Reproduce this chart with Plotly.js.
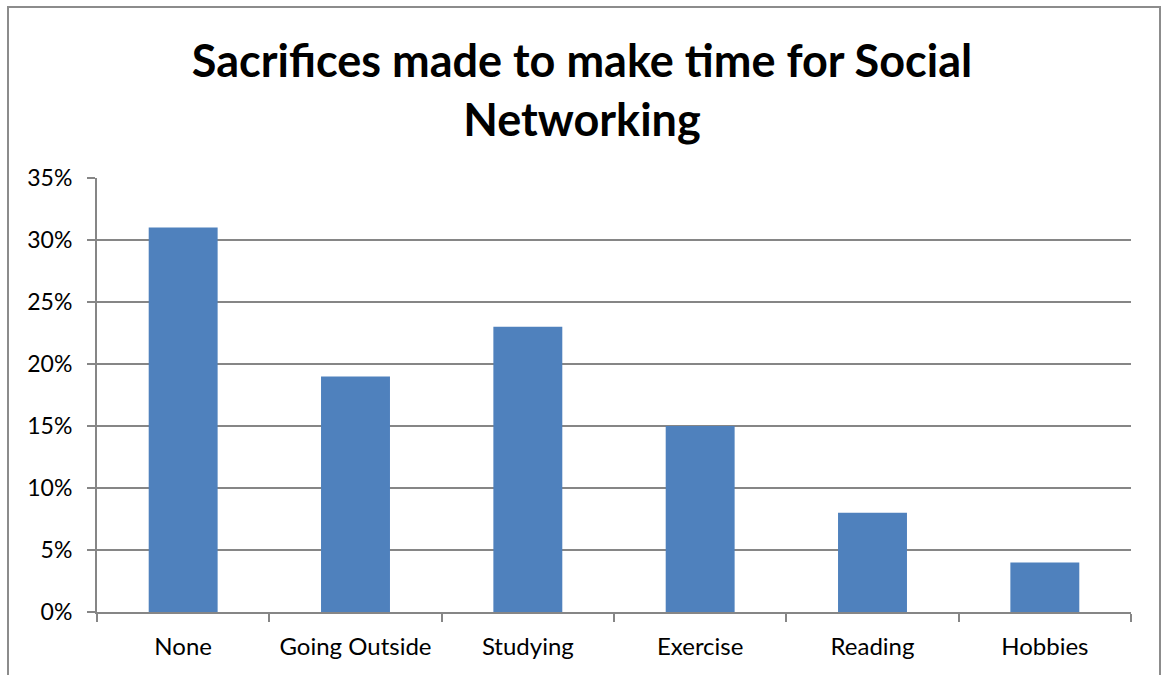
<!DOCTYPE html>
<html>
<head>
<meta charset="utf-8">
<script src="https://cdn.plot.ly/plotly-3.0.1.min.js"></script>
<style>
html,body{margin:0;padding:0;background:#fff;}
#chart{width:1164px;height:675px;}
</style>
</head>
<body>
<div id="chart"></div>
<script>
const categories = ["None", "Going Outside", "Studying", "Exercise", "Reading", "Hobbies"];
const values = [0.31, 0.19, 0.23, 0.15, 0.08, 0.04];
const yTickVals = [0, 0.05, 0.10, 0.15, 0.20, 0.25, 0.30, 0.35];
const yTickText = ["0%", "5%", "10%", "15%", "20%", "25%", "30%", "35%"];

const fontFam = "Lato, 'Open Sans', sans-serif";

const trace = {
  type: "bar",
  x: categories,
  y: values,
  marker: {color: "#4F81BD"},
  hoverinfo: "x+y"
};

const layout = {
  width: 1164,
  height: 675,
  margin: {l: 97, r: 33, t: 178, b: 63},
  paper_bgcolor: "#fff",
  plot_bgcolor: "#fff",
  bargap: 0.6,
  showlegend: false,
  title: {
    text: "<b>Sacrifices made to make time for Social<br>Networking</b>",
    font: {family: fontFam, size: 45, color: "#000"},
    x: 0.5, xanchor: "center",
    yref: "container",
    y: 1 - 77 / 675, yanchor: "middle"
  },
  xaxis: {
    type: "category",
    showline: true, linecolor: "#868686", linewidth: 2,
    ticks: "outside", tickson: "boundaries", ticklen: 8, tickcolor: "#868686", tickwidth: 2,
    tickfont: {family: fontFam, size: 24, color: "#000"},
    ticklabelstandoff: 12,
    showgrid: false
  },
  yaxis: {
    range: [0, 0.35],
    tickvals: yTickVals,
    ticktext: yTickText,
    showline: true, linecolor: "#868686", linewidth: 2,
    ticks: "outside", ticklen: 8, tickcolor: "#868686", tickwidth: 2,
    tickfont: {family: fontFam, size: 23, color: "#000"},
    ticklabelstandoff: 10,
    showgrid: true, gridcolor: "#868686", gridwidth: 1.5,
    zeroline: false
  },
  shapes: [{
    type: "rect", xref: "paper", yref: "paper",
    x0: (8 - 97) / 1034, x1: (1160 - 97) / 1034,
    y0: -0.3, y1: (612 - 7) / 434,
    line: {color: "#8c8c8c", width: 2},
    fillcolor: "rgba(0,0,0,0)",
    layer: "below"
  }]
};

Plotly.newPlot("chart", [trace], layout, {displayModeBar: false, staticPlot: true});
</script>
</body>
</html>
